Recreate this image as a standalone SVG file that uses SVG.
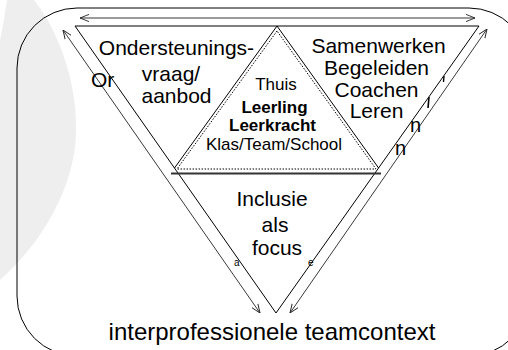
<svg xmlns="http://www.w3.org/2000/svg" width="508" height="350" viewBox="0 0 508 350">
  <style>
    .ln { fill: none; stroke: #000; stroke-width: 1; }
    .dot { fill: none; stroke: #000; stroke-width: 1; stroke-dasharray: 1.5 1.5; }
    .t { font-family: "Liberation Sans", Arial, sans-serif; fill: #000; text-anchor: middle; }
    .b { font-weight: bold; }
    .f { font-family: "Liberation Sans", Arial, sans-serif; fill: #000; }
    .arr { fill: none; stroke: #222; stroke-width: 0.9; marker-start: url(#ah); marker-end: url(#ah); }
  </style>
  <defs>
    <marker id="ah" viewBox="0 0 10 10" refX="10" refY="5" markerWidth="9" markerHeight="9" markerUnits="userSpaceOnUse" orient="auto-start-reverse">
      <path d="M0,1 L10,5 L0,9" fill="none" stroke="#222" stroke-width="1"/>
    </marker>
  </defs>

  <rect width="508" height="350" fill="#fff"/>
  <!-- faint background arc -->
  <path d="M 7 0 L 34 0 C 62 35 78 90 76 135 C 74 185 45 240 0 280 L 0 40 C 3 28 5 12 7 0 Z" fill="#eeeeee"/>

  <!-- outer rounded frame -->
  <g id="frame">
    <rect x="17" y="8" width="512" height="348" rx="60" ry="60" class="ln"/>
  </g>

  <g id="connectors">
    <line x1="80" y1="18" x2="475" y2="18" class="arr"/>
    <line x1="63" y1="30" x2="260" y2="313" class="arr"/>
    <line x1="487" y1="29" x2="290" y2="313" class="arr"/>
  </g>

  <g id="triangle-outer">
    <polygon points="75,26 479,26 276,313" class="ln"/>
  </g>

  <g id="node-ondersteuning">
    <polyline points="277,26 174.5,168" class="ln"/>
    <text class="t" x="176.5" y="55" font-size="21">Ondersteunings-</text>
    <text class="t" x="171" y="81" font-size="21">vraag/</text>
    <text class="t" x="176.5" y="103" font-size="21">aanbod</text>
  </g>

  <g id="node-samenwerken">
    <polyline points="277,26 378.6,168" class="ln"/>
    <text class="t" x="378.5" y="53" font-size="21">Samenwerken</text>
    <text class="t" x="376.5" y="75" font-size="21">Begeleiden</text>
    <text class="t" x="376.5" y="97" font-size="21">Coachen</text>
    <text class="t" x="376.5" y="118" font-size="21">Leren</text>
  </g>

  <g id="node-centrum">
    <polygon points="277,31 177,169 376,169" class="dot"/>
    <text class="t" x="276" y="90" font-size="17">Thuis</text>
    <text class="t b" x="274.5" y="113" font-size="17">Leerling</text>
    <text class="t b" x="272.5" y="131" font-size="17">Leerkracht</text>
    <text class="t" x="274" y="150" font-size="17">Klas/Team/School</text>
  </g>

  <g id="node-inclusie">
    <line x1="171" y1="173.5" x2="381" y2="173.5" stroke="#333" stroke-width="1.8"/>
    <text class="t" x="272" y="206" font-size="21">Inclusie</text>
    <text class="t" x="275" y="232" font-size="21">als</text>
    <text class="t" x="277" y="255" font-size="21">focus</text>
  </g>

  <g id="label-context">
    <text class="t" x="272" y="340" font-size="24">interprofessionele teamcontext</text>
  </g>

  <g id="fragments">
    <text class="f" x="91" y="87" font-size="21">Or</text>
    <text class="f" x="395" y="155" font-size="20">n</text>
    <text class="f" x="410" y="132" font-size="20">n</text>
    <line x1="429" y1="97" x2="428" y2="108" stroke="#000" stroke-width="1.6"/>
    <line x1="444" y1="76" x2="443.5" y2="82" stroke="#000" stroke-width="1.4"/>
    <text class="f" x="234" y="266" font-size="10">a</text>
    <text class="f" x="308" y="266" font-size="10">e</text>
  </g>
</svg>
